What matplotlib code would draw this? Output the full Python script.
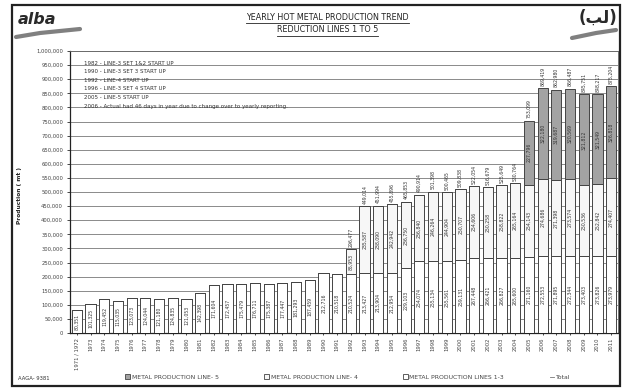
import matplotlib
matplotlib.use("Agg")
import matplotlib.pyplot as plt
from matplotlib.patches import Patch, Rectangle
from matplotlib.lines import Line2D
from matplotlib.ticker import FuncFormatter, MultipleLocator

# ---------------------------------------------------------------------------
# Yearly hot metal production (mt) per reduction line
# ---------------------------------------------------------------------------

years = ["1971 / 1972"] + [str(y) for y in range(1973, 2012)]

lines_1_3 = [
    80351, 101325, 119452, 115035, 123073, 124044, 121180, 124835, 121053, 142398,
    171604, 172457, 175479, 176711, 175387, 177447, 181293, 187459, 212716, 210518,
    210524, 213427, 213904, 212954, 229103, 254074, 255134, 255561, 259131, 267448,
    266421, 266827, 265600, 271160, 272553, 271895, 272344, 273403, 273826, 273979,
]

line_4 = [
    0, 0, 0, 0, 0, 0, 0, 0, 0, 0,
    0, 0, 0, 0, 0, 0, 0, 0, 0, 0,
    85953, 235587, 238090, 242942, 236750, 236840, 246264, 244904, 250707, 254606,
    250258, 258822, 265164, 254143, 274686, 271398, 273574, 250536, 252842, 274407,
]

line_5 = [
    0, 0, 0, 0, 0, 0, 0, 0, 0, 0,
    0, 0, 0, 0, 0, 0, 0, 0, 0, 0,
    0, 0, 0, 0, 0, 0, 0, 0, 0, 0,
    0, 0, 0, 227796, 322180, 319687, 320569, 321812, 321549, 326818,
]

milestones = [
    "1982 - LINE-3 SET 1&2 START UP",
    "1990 - LINE-3 SET 3 START UP",
    "1992 - LINE-4 START UP",
    "1996 - LINE-3 SET 4 START UP",
    "2005 - LINE-5 START UP",
    "2006 - Actual had 46 days in year due to change over to yearly reporting.",
]

totals = [a + b + c for a, b, c in zip(lines_1_3, line_4, line_5)]

W, H = 624, 388
fig = plt.figure(figsize=(W / 100, H / 100), dpi=100)
fig.patch.set_facecolor("white")

def fx(px):
    return px / W

def fy(py):
    return 1 - py / H

# outer frame
fig.add_artist(Rectangle((fx(12), fy(386)), fx(620) - fx(12), fy(5) - fy(386),
                         transform=fig.transFigure, fill=False, lw=1.6, ec="#222"))

# header
t1 = fig.text(0.525, fy(17), "YEARLY HOT METAL PRODUCTION TREND", ha="center",
              va="center", fontsize=5.8, color="#222")
t2 = fig.text(0.525, fy(30), "REDUCTION LINES 1 TO 5", ha="center", va="center",
              fontsize=5.8, color="#222")
fig.canvas.draw()
for t in (t1, t2):
    bb = t.get_window_extent().transformed(fig.transFigure.inverted())
    fig.add_artist(Line2D([bb.x0, bb.x1], [bb.y0 - 0.004] * 2, lw=0.6, color="#222",
                          transform=fig.transFigure))

# logos
fig.text(fx(18), fy(19), "alba", fontsize=11.5, fontweight="bold", color="#2a2a2a",
         va="center", ha="left", style="italic")
fig.add_artist(Line2D([fx(16), fx(40), fx(80)], [fy(37), fy(33), fy(29)], lw=3.0,
                      color="#6a6a6a", alpha=0.85, solid_capstyle="round",
                      transform=fig.transFigure))
fig.text(fx(598), fy(18), "(\ufe90\ufedf)", fontsize=12, fontweight="bold",
         color="#2a2a2a", va="center", ha="center", family=["DejaVu Sans"])
fig.add_artist(Line2D([fx(572), fx(596), fx(616)], [fy(38), fy(33), fy(30)], lw=3.0,
                      color="#6a6a6a", alpha=0.85, solid_capstyle="round",
                      transform=fig.transFigure))

# chart
ax = fig.add_axes([fx(70), fy(333), fx(618) - fx(70), fy(51) - fy(333)])
x = list(range(len(years)))
bw = 0.74
ec = "#444"

ax.bar(x, lines_1_3, bw, color="white", edgecolor=ec, lw=0.7, zorder=3)
ax.bar(x, line_4, bw, bottom=lines_1_3, color="#f7f7f7", edgecolor=ec, lw=0.7, zorder=3)
bottom_5 = [a + b for a, b in zip(lines_1_3, line_4)]
ax.bar(x, line_5, bw, bottom=bottom_5, color="#a3a3a3", edgecolor=ec, lw=0.7, zorder=3)

lab_kw = dict(rotation=90, ha="center", va="center", fontsize=3.3, color="#333", zorder=4)
for i in x:
    ax.text(i, lines_1_3[i] / 2, f"{lines_1_3[i]:,}", **lab_kw)
    if line_4[i]:
        ax.text(i, lines_1_3[i] + line_4[i] / 2, f"{line_4[i]:,}", **lab_kw)
    if line_5[i]:
        ax.text(i, bottom_5[i] + line_5[i] / 2, f"{line_5[i]:,}", **lab_kw)
    if line_4[i] or line_5[i]:
        ax.text(i, totals[i] + 8000, f"{totals[i]:,}", rotation=90, ha="center",
                va="bottom", fontsize=3.3, color="#333", zorder=4)

for k, note in enumerate(milestones):
    ax.text(0.5, 957000 - k * 30500, note, fontsize=4.0, color="#333", va="center",
            ha="left", zorder=4)

ax.set_xlim(-0.5, len(years) - 0.5)
ax.set_ylim(0, 1000000)
ax.yaxis.set_major_locator(MultipleLocator(50000))
ax.yaxis.set_major_formatter(FuncFormatter(lambda v, p: f"{int(v):,}"))
ax.set_xticks(x)
ax.set_xticklabels(years, rotation=90, fontsize=3.8, color="#444")
ax.tick_params(axis="y", labelsize=3.8, labelcolor="#444", length=2, width=0.5, pad=3)
ax.tick_params(axis="x", length=1.5, width=0.5, pad=2)
ax.grid(axis="y", color="#8a8a8a", lw=0.7, zorder=0)
for s in ax.spines.values():
    s.set_color("#666")
    s.set_linewidth(0.6)
ax.spines["left"].set_color("#222")
ax.spines["left"].set_linewidth(0.9)
ax.spines["bottom"].set_color("#222")
ax.spines["bottom"].set_linewidth(0.9)

fig.text(fx(20), fy(195), "Production ( mt )", rotation=90, ha="center", va="center",
         fontsize=4.2, fontweight="bold", color="#222")

handles = [
    Patch(facecolor="#a3a3a3", edgecolor=ec, lw=0.6, label="METAL PRODUCTION LINE- 5"),
    Patch(facecolor="#f7f7f7", edgecolor=ec, lw=0.6, label="METAL PRODUCTION LINE- 4"),
    Patch(facecolor="white", edgecolor=ec, lw=0.6, label="METAL PRODUCTION LINES 1-3"),
    Line2D([], [], color="#777", lw=0.6, label="Total"),
]
fig.legend(handles=handles, loc="center", bbox_to_anchor=(fx(348), fy(377)), ncol=4,
           frameon=False, fontsize=4.4, handlelength=0.7, handleheight=0.7,
           handletextpad=0.3, columnspacing=7.5, labelcolor="#444")

fig.text(fx(18), fy(378), "AAGA- 9381", fontsize=3.8, color="#333", va="center")

fig.savefig("out.png", dpi=100, facecolor="white")
